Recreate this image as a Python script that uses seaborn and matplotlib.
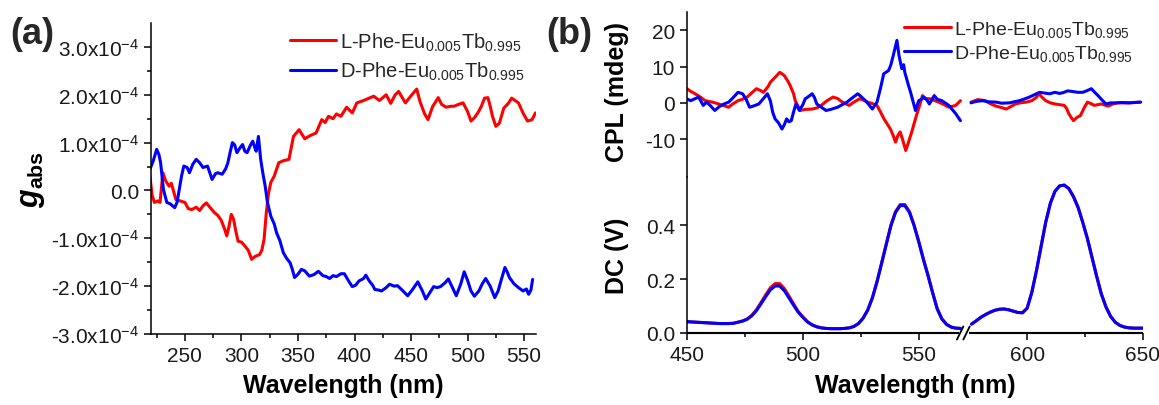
import numpy as np
import matplotlib
matplotlib.use("Agg")
import matplotlib.pyplot as plt
import seaborn as sns

# ---------------- data ----------------
# (a) absorption dissymmetry factor, in units of 1e-4
abs_l_wl = [219, 221, 223, 226, 228, 230.5, 233, 236, 238, 242, 246, 250, 253, 256, 260, 263, 266, 269,
            272, 276, 279, 282, 285, 287, 289, 291, 293, 295, 297, 300, 303, 306, 309, 312, 316, 318,
            320, 322, 324, 326, 329, 333, 337, 342, 346, 351, 356, 361, 366, 371, 374, 377, 381, 384,
            388, 393, 398, 402, 407, 412, 417, 422, 428, 432, 436, 439, 442, 445, 449, 455, 458, 462,
            465, 469, 474, 477, 481, 485, 488, 492, 496, 500, 503, 506, 509, 512, 515, 518, 520, 522,
            525, 528, 532, 536, 539, 542, 545, 549, 553, 557, 560]
abs_l_g = [0.30, -0.10, -0.25, -0.22, -0.25, 0.37, 0.20, 0.09, 0.15, -0.19, -0.22, -0.25, -0.38, -0.40,
           -0.35, -0.42, -0.32, -0.26, -0.35, -0.46, -0.52, -0.62, -0.80, -0.95, -0.75, -0.50, -0.60,
           -0.85, -1.06, -1.08, -1.16, -1.25, -1.44, -1.38, -1.34, -1.25, -1.02, -0.46, -0.05, 0.17,
           0.30, 0.58, 0.62, 0.65, 1.13, 1.27, 1.08, 1.15, 1.20, 1.48, 1.42, 1.55, 1.50, 1.60, 1.55,
           1.74, 1.62, 1.83, 1.87, 1.92, 1.97, 1.88, 2.00, 1.82, 2.00, 2.07, 1.95, 1.83, 1.95, 2.12,
           1.85, 1.60, 1.48, 1.75, 1.94, 1.80, 1.74, 1.76, 1.76, 1.80, 1.83, 1.65, 1.45, 1.52, 1.62,
           1.75, 1.93, 1.94, 1.76, 1.55, 1.34, 1.40, 1.72, 1.82, 1.93, 1.88, 1.83, 1.62, 1.45, 1.48, 1.62]

abs_d_wl = [219, 222, 225, 227, 228.5, 231, 234, 237, 241, 243, 245, 247, 249, 252, 254, 257, 260, 263,
            266, 270, 274, 277, 279, 283, 286, 288, 290, 292, 294, 296, 299, 301, 303, 305, 308, 310,
            312, 313, 315, 317, 319, 321, 323, 326, 329, 331, 334, 337, 340, 343, 345, 347, 350, 353,
            356, 360, 364, 368, 372, 375, 378, 381, 384, 388, 391, 395, 398, 401, 404, 408, 410, 413,
            416, 418, 421, 424, 428, 431, 435, 438, 442, 447, 451, 456, 460, 463, 467, 470, 473, 476,
            480, 483, 487, 490, 494, 497, 500, 503, 506, 510, 513, 516, 520, 524, 527, 530, 533, 535,
            537, 541, 545, 549, 552, 554, 556, 557.5]
abs_d_g = [0.44, 0.62, 0.86, 0.75, 0.58, 0.02, -0.25, -0.28, -0.36, -0.25, 0.02, 0.30, 0.51, 0.48, 0.37,
           0.55, 0.65, 0.58, 0.48, 0.51, 0.23, 0.35, 0.37, 0.34, 0.45, 0.58, 0.80, 1.00, 0.95, 0.79,
           0.90, 0.96, 0.82, 0.79, 0.95, 1.03, 0.88, 0.82, 1.13, 0.65, 0.35, 0.09, -0.25, -0.54, -0.70,
           -0.88, -1.05, -1.30, -1.42, -1.51, -1.65, -1.82, -1.75, -1.65, -1.68, -1.79, -1.76, -1.69,
           -1.78, -1.80, -1.84, -1.78, -1.80, -1.74, -1.74, -1.90, -2.01, -1.98, -1.89, -1.84, -1.77,
           -1.89, -1.98, -2.07, -2.08, -2.10, -2.03, -1.96, -2.00, -1.99, -2.08, -2.20, -2.08, -1.91,
           -2.10, -2.27, -2.12, -2.01, -2.03, -2.01, -1.93, -1.85, -2.05, -2.20, -1.95, -1.70, -1.88,
           -2.10, -2.21, -2.10, -1.95, -1.84, -2.00, -2.24, -2.10, -1.85, -1.61, -1.70, -1.82, -1.95,
           -2.03, -2.10, -2.06, -2.17, -2.08, -1.86]

# (b) CPL (mdeg), two spectral windows separated by an axis break
cpl_l_wl1 = [450, 451.5, 453.5, 456, 457.8, 461, 463.6, 466, 467.9, 470, 472, 474, 476, 478, 480, 482,
             483, 485, 486, 488, 490, 491, 492, 493.5, 494.5, 496, 496.7, 498, 498.9, 501, 504, 506,
             508, 510, 513, 515, 517, 520, 522, 524.4, 526, 528, 530, 532, 533.5, 535, 537.8, 539,
             540, 541, 542, 543, 544.4, 545.5, 547, 549, 550.5, 551.6, 553, 555, 558.6, 561, 563, 566, 568]
cpl_l_v1 = [3.9, 3.2, 2.5, 1.5, 0.6, 0.2, -0.3, -0.8, -1.2, -0.2, 0.6, 1.0, 1.6, 2.8, 3.9, 3.3, 2.9, 4.5,
            5.7, 7.0, 8.4, 8.0, 7.5, 6.0, 4.8, 2.5, 0.6, -1.0, -2.1, -1.8, -1.7, -1.4, -0.7, 0.4, 1.6,
            1.2, 0.2, -0.7, 0.2, 1.1, 0.8, 0.2, -0.2, -0.7, -2.5, -4.4, -7.2, -9.0, -10.8, -9.0, -8.0,
            -10.0, -13.1, -11.0, -8.0, -3.5, -0.5, 2.0, 1.2, 1.1, 0.2, -0.5, -1.2, -0.7, 0.6]
cpl_d_wl1 = [450, 451.5, 453, 455, 457, 458.5, 460, 462, 464, 466, 468, 470, 472, 474, 475.5, 477, 479,
             481, 483, 484.7, 486, 487, 488, 489.5, 491, 492, 493, 494, 495, 496, 497, 498.5, 500, 501,
             503, 504, 505, 506, 508, 510, 512, 515, 517, 519, 521, 523.7, 525, 527, 528.5, 530, 532,
             533.5, 534.9, 537, 538, 539, 540.6, 541.5, 542.7, 543.5, 544, 545.5, 546.5, 548.6, 550,
             551.5, 552, 553.5, 554.6, 556.7, 558, 560, 563, 566, 568]
cpl_d_v1 = [1.1, 0.6, 1.0, 1.6, -0.7, 0.2, -0.7, -2.1, -1.0, -0.3, 0.2, 1.5, 2.9, 2.5, 1.0, -1.2, -0.8,
            -0.3, 1.2, 2.5, 0.5, -2.6, -4.4, -5.5, -7.2, -6.0, -4.4, -5.2, -4.9, -2.5, -0.3, -2.1, -0.5,
            1.1, 2.0, 2.5, 1.5, -0.3, -1.2, -2.1, -1.8, -1.2, -0.5, 0.2, 1.2, 2.5, 1.8, 0.6, -0.5, -1.7,
            0.2, 4.0, 8.0, 8.9, 10.5, 13.0, 17.2, 13.0, 9.4, 10.5, 8.4, 5.0, 2.9, -2.1, 0.6, 1.1, 1.6,
            0.8, -0.3, 2.0, 1.0, 0.6, -0.7, -3.0, -4.9]
cpl_l_wl2 = [575.8, 578.7, 582, 584, 586.6, 589, 591, 593, 595, 597, 599.6, 602, 604, 605, 606.5, 608,
             610, 612, 614, 616, 617, 618, 619, 620, 621.5, 623, 624.5, 626, 627.5, 629, 632, 635, 637,
             639, 643.8, 646, 648.6]
cpl_l_v2 = [0.2, 0.9, 0.6, -0.2, -0.9, -1.3, -1.7, -1.0, -0.3, 0.0, 0.2, 0.6, 1.5, 2.5, 1.5, 0.6, 0.0,
            -0.3, -0.5, -0.7, -1.5, -3.0, -4.0, -4.9, -4.0, -3.5, -1.5, 0.2, -0.2, -0.7, -0.3, -0.9,
            -0.3, 0.0, 0.0, 0.1, 0.2]
cpl_d_wl2 = [575.8, 578, 580.8, 583, 586.6, 589, 592.4, 594.5, 596.7, 599, 601, 603, 605.4, 607.5, 609.7,
             612, 614, 615.5, 617.5, 619.8, 622, 624, 626, 627.7, 629, 630.6, 632, 634, 636, 638.6, 641,
             644, 646.5, 649]
cpl_d_v2 = [0.0, 0.4, 0.6, 0.3, 0.2, -0.1, 0.0, 0.3, 0.6, 1.1, 1.6, 2.2, 2.9, 2.7, 2.5, 2.9, 2.6, 2.8,
            3.3, 3.1, 2.9, 2.9, 3.4, 3.9, 3.0, 2.0, 1.0, -0.3, 0.0, 0.0, 0.1, 0.0, 0.1, 0.2]

# (b) DC signal (V)
dc_wl1 = [450, 452, 454, 456, 458, 460, 462, 464, 466, 468, 470, 472, 474, 476, 478, 480, 482, 484, 486,
          488, 490, 492, 494, 496, 498, 500, 502, 504, 506, 508, 510, 512, 514, 516, 518, 520, 522, 524,
          526, 528, 530, 532, 534, 536, 538, 540, 542, 544, 546, 548, 550, 552, 554, 556, 558, 560, 562,
          564, 566, 568]
dc_l_v1 = [0.042, 0.041, 0.040, 0.039, 0.038, 0.037, 0.036, 0.035, 0.035, 0.035, 0.036, 0.040, 0.045,
           0.052, 0.066, 0.087, 0.114, 0.142, 0.168, 0.183, 0.183, 0.165, 0.137, 0.108, 0.080, 0.060,
           0.042, 0.030, 0.023, 0.019, 0.017, 0.016, 0.016, 0.016, 0.017, 0.019, 0.024, 0.035, 0.055,
           0.085, 0.130, 0.190, 0.260, 0.330, 0.400, 0.450, 0.476, 0.476, 0.450, 0.400, 0.340, 0.275,
           0.215, 0.150, 0.090, 0.052, 0.032, 0.022, 0.018, 0.017]
dc_d_v1 = [0.042, 0.041, 0.040, 0.039, 0.038, 0.037, 0.036, 0.035, 0.035, 0.035, 0.036, 0.040, 0.044,
           0.051, 0.064, 0.083, 0.109, 0.135, 0.160, 0.174, 0.174, 0.157, 0.130, 0.103, 0.077, 0.058,
           0.041, 0.030, 0.023, 0.019, 0.017, 0.016, 0.016, 0.016, 0.017, 0.019, 0.024, 0.035, 0.055,
           0.085, 0.130, 0.190, 0.258, 0.328, 0.397, 0.447, 0.472, 0.472, 0.447, 0.398, 0.338, 0.273,
           0.213, 0.149, 0.089, 0.052, 0.032, 0.022, 0.018, 0.017]
dc_wl2 = [576, 578, 580, 582, 584, 586, 588, 590, 592, 594, 596, 598, 600, 602, 604, 606, 608, 610, 612,
          614, 616, 618, 620, 622, 624, 626, 628, 630, 632, 634, 636, 638, 640, 642, 644, 646, 648, 650]
dc_l_v2 = [0.033, 0.045, 0.058, 0.068, 0.077, 0.084, 0.088, 0.089, 0.086, 0.081, 0.076, 0.075, 0.092,
           0.150, 0.230, 0.320, 0.410, 0.480, 0.525, 0.545, 0.548, 0.535, 0.505, 0.465, 0.410, 0.350,
           0.280, 0.210, 0.145, 0.097, 0.062, 0.040, 0.028, 0.022, 0.019, 0.018, 0.018, 0.018]
dc_d_v2 = list(dc_l_v2)

series_labels = [r"L-Phe-Eu$_{0.005}$Tb$_{0.995}$", r"D-Phe-Eu$_{0.005}$Tb$_{0.995}$"]
series_colors = ["#ff0000", "#0000ff"]

a_xticks = [250, 300, 350, 400, 450, 500, 550]
a_yticks = [-3, -2, -1, 0, 1, 2, 3]
a_yticklabels = [r"-3.0x10$^{-4}$", r"-2.0x10$^{-4}$", r"-1.0x10$^{-4}$", "0.0",
                 r"1.0x10$^{-4}$", r"2.0x10$^{-4}$", r"3.0x10$^{-4}$"]
b_xticks = [450, 500, 550, 600, 650]
b_xminor = [475, 525, 625]
cpl_yticks = [-10, 0, 10, 20]
cpl_yticklabels = ["-10", "0", "10", "20"]
dc_yticks = [0.0, 0.2, 0.4]
dc_yticklabels = ["0.0", "0.2", "0.4"]

# ---------------- style ----------------
sns.set_style("ticks")
plt.rcParams["font.family"] = ["Liberation Sans", "DejaVu Sans"]
plt.rcParams["mathtext.fontset"] = "custom"
plt.rcParams["mathtext.rm"] = "Liberation Sans"
plt.rcParams["mathtext.it"] = "Liberation Sans:italic"
plt.rcParams["mathtext.bf"] = "Liberation Sans:bold"
plt.rcParams["mathtext.bfit"] = "Liberation Sans:italic:bold"
plt.rcParams["mathtext.default"] = "regular"

TICK_FS = 15
LABEL_FS = 18
LW = 2.2
AX_LW = 1.1
TEXT_C = "#1a1a1a"

fig = plt.figure(figsize=(11.59, 4.06), dpi=100)
W, H = 1159, 406


def rect(x0, y0, x1, y1):
    return [x0 / W, 1 - y1 / H, (x1 - x0) / W, (y1 - y0) / H]


def style_ticks(ax):
    ax.tick_params(axis="both", which="major", direction="out", length=5, width=AX_LW,
                   labelsize=TICK_FS, colors="black", labelcolor=TEXT_C)
    ax.tick_params(axis="both", which="minor", direction="out", length=3, width=AX_LW, colors="black")
    for s in ax.spines.values():
        s.set_linewidth(AX_LW)
        s.set_color("black")


# ---------------- panel (a) ----------------
ax_a = fig.add_axes(rect(151, 24, 536, 335))
sns.lineplot(x=abs_l_wl, y=abs_l_g, ax=ax_a, color=series_colors[0], linewidth=LW,
             sort=False, estimator=None, label=series_labels[0])
sns.lineplot(x=abs_d_wl, y=abs_d_g, ax=ax_a, color=series_colors[1], linewidth=LW,
             sort=False, estimator=None, label=series_labels[1])
ax_a.set_xlim(220, 560.5)
ax_a.set_ylim(-3, 3.5)
ax_a.set_xticks(a_xticks)
ax_a.set_xticks([225, 275, 325, 375, 425, 475, 525], minor=True)
ax_a.set_yticks(a_yticks)
ax_a.set_yticklabels(a_yticklabels)
ax_a.set_yticks([-2.5, -1.5, -0.5, 0.5, 1.5, 2.5], minor=True)
sns.despine(ax=ax_a)
style_ticks(ax_a)
ax_a.set_xlabel("Wavelength (nm)", fontsize=LABEL_FS, fontweight="bold", color="black")
ax_a.set_ylabel(r"$\mathbfit{g}_{\mathbf{abs}}$", fontsize=22, color="black")
ax_a.yaxis.set_label_coords(-0.27, 0.5)
ax_a.xaxis.set_label_coords(0.5, -0.125)
ax_a.legend(loc="upper left", bbox_to_anchor=(0.33, 1.015), frameon=False, fontsize=TICK_FS - 0.5,
            handlelength=2.3, handletextpad=0.2, labelspacing=0.35, borderaxespad=0.2)

# ---------------- panel (b) ----------------
BREAK_LO, BREAK_HI = 570.0, 573.2
GAP = BREAK_HI - BREAK_LO


def fwd(x):
    x = np.asarray(x, dtype=float)
    return np.where(x <= BREAK_LO, x, np.where(x >= BREAK_HI, x - GAP, BREAK_LO))


def inv(y):
    y = np.asarray(y, dtype=float)
    return np.where(y <= BREAK_LO, y, y + GAP)


ax_c = fig.add_axes(rect(687, 13, 1143, 178))
ax_d = fig.add_axes(rect(687, 178, 1143, 334))
for ax in (ax_c, ax_d):
    ax.set_xscale("function", functions=(fwd, inv))
    ax.set_xlim(450, 650)
    ax.patch.set_alpha(0)

# CPL
for wl, v, c, lab in [(cpl_l_wl1, cpl_l_v1, series_colors[0], series_labels[0]),
                      (cpl_d_wl1, cpl_d_v1, series_colors[1], series_labels[1])]:
    sns.lineplot(x=wl, y=v, ax=ax_c, color=c, linewidth=LW, sort=False, estimator=None, label=lab)
for wl, v, c in [(cpl_l_wl2, cpl_l_v2, series_colors[0]), (cpl_d_wl2, cpl_d_v2, series_colors[1])]:
    sns.lineplot(x=wl, y=v, ax=ax_c, color=c, linewidth=LW, sort=False, estimator=None)
ax_c.set_ylim(-20.4, 25)
ax_c.set_yticks(cpl_yticks)
ax_c.set_yticklabels(cpl_yticklabels)
ax_c.set_xticks([])
ax_c.set_xticks([], minor=True)
for s in ("top", "right", "bottom"):
    ax_c.spines[s].set_visible(False)
style_ticks(ax_c)
ax_c.set_xlabel("")
ax_c.set_ylabel("CPL (mdeg)", fontsize=LABEL_FS, fontweight="bold", color="black")
ax_c.yaxis.set_label_coords(-0.128, 0.52)
ax_c.legend(loc="upper left", bbox_to_anchor=(0.45, 1.03), frameon=False, fontsize=TICK_FS - 1,
            handlelength=2.4, handletextpad=0.2, labelspacing=0.2, borderaxespad=0.2)

# DC
for wl, v, c in [(dc_wl1, dc_l_v1, series_colors[0]), (dc_wl1, dc_d_v1, series_colors[1]),
                 (dc_wl2, dc_l_v2, series_colors[0]), (dc_wl2, dc_d_v2, series_colors[1])]:
    sns.lineplot(x=wl, y=v, ax=ax_d, color=c, linewidth=LW, sort=False, estimator=None)
ax_d.set_ylim(0, 0.578)
ax_d.set_yticks(dc_yticks)
ax_d.set_yticklabels(dc_yticklabels)
ax_d.set_xticks(b_xticks)
ax_d.set_xticks(b_xminor, minor=True)
for s in ("top", "right", "bottom"):
    ax_d.spines[s].set_visible(False)
style_ticks(ax_d)
ax_d.set_xlabel("Wavelength (nm)", fontsize=LABEL_FS, fontweight="bold", color="black")
ax_d.xaxis.set_label_coords(0.5, -0.255)
ax_d.set_ylabel("DC (V)", fontsize=LABEL_FS, fontweight="bold", color="black")
ax_d.yaxis.set_label_coords(-0.128, 0.5)

# broken bottom axis with "//" marks
ax_d.plot([0, 0.596], [0, 0], transform=ax_d.transAxes, color="black", lw=AX_LW * 1.39,
          clip_on=False, solid_capstyle="butt")
ax_d.plot([0.618, 1], [0, 0], transform=ax_d.transAxes, color="black", lw=AX_LW * 1.39,
          clip_on=False, solid_capstyle="butt")
for xc in (0.599, 0.613):
    ax_d.plot([xc - 0.007, xc + 0.007], [-0.042, 0.042], transform=ax_d.transAxes,
              color="black", lw=AX_LW * 1.2, clip_on=False)

# panel tags
fig.text(10 / W, 1 - 35 / H, "(a)", fontsize=26, fontweight="bold", va="center", ha="left")
fig.text(546 / W, 1 - 35 / H, "(b)", fontsize=26, fontweight="bold", va="center", ha="left")

fig.savefig("out.png", dpi=100)
